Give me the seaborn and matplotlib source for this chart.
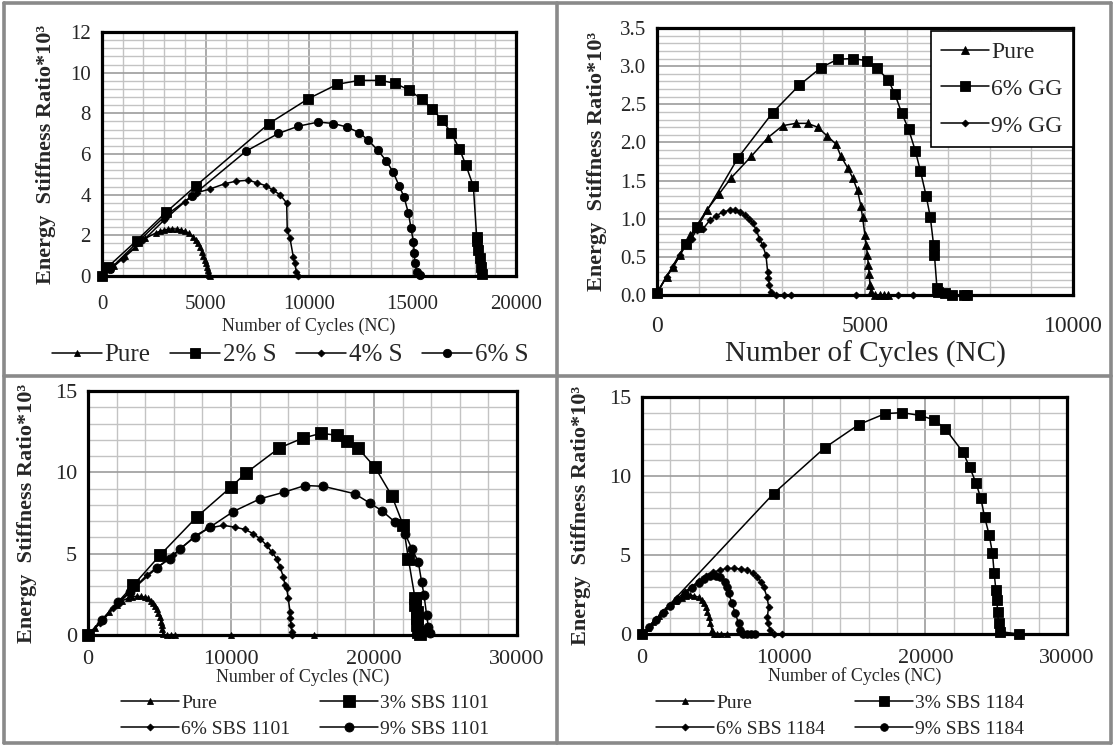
import matplotlib
matplotlib.use("Agg")
import matplotlib.pyplot as plt
from matplotlib.lines import Line2D
from matplotlib.ticker import MultipleLocator, FormatStrFormatter
import seaborn as sns

# ---------------- (a) sulphur-modified binders ----------------
a_pure_nc = [0, 600, 1100, 1600, 2100, 2600, 2800, 3000, 3200, 3400, 3600, 3800, 4000,
             4200, 4410, 4550, 4650, 4750, 4810, 4900, 4980, 5030, 5060, 5100, 5140, 5180, 5220]
a_pure_esr = [0, 0.5, 0.98, 1.42, 1.85, 2.12, 2.2, 2.26, 2.3, 2.32, 2.31, 2.27, 2.2,
              2.1, 1.94, 1.78, 1.61, 1.42, 1.2, 1.0, 0.79, 0.62, 0.46, 0.3, 0.12, 0.04, 0]
a_s2_nc = [0, 300, 1670, 3090, 4540, 8070, 9970, 11370, 12430, 13430, 14150, 14850, 15440,
           15930, 16440, 16860, 17260, 17570, 17940, 18100, 18140, 18180, 18240, 18300, 18350]
a_s2_esr = [0, 0.46, 1.74, 3.13, 4.44, 7.5, 8.72, 9.43, 9.62, 9.62, 9.48, 9.14, 8.69,
            8.23, 7.67, 7.05, 6.27, 5.48, 4.41, 1.94, 1.7, 1.28, 0.87, 0.46, 0.1]
a_s4_nc = [0, 1000, 2000, 3000, 4000, 4600, 5220, 5940, 6460, 7070, 7500, 7920, 8280,
           8600, 8920, 8950, 9080, 9240, 9310, 9390, 9470]
a_s4_esr = [0, 0.85, 1.75, 2.75, 3.65, 4.1, 4.28, 4.54, 4.66, 4.71, 4.58, 4.44, 4.21,
            4.0, 3.59, 2.27, 1.86, 0.95, 0.63, 0.21, 0.0]
a_s6_nc = [0, 400, 1700, 3050, 4330, 6960, 8520, 9490, 10450, 11180, 11820, 12430, 12870,
           13320, 13720, 14070, 14350, 14590, 14800, 14930, 15040, 15090, 15120, 15200, 15360]
a_s6_esr = [0, 0.35, 1.65, 2.95, 3.92, 6.14, 7.01, 7.37, 7.57, 7.5, 7.33, 7.05, 6.67,
            6.19, 5.68, 5.1, 4.44, 3.89, 3.1, 2.35, 1.69, 1.12, 0.63, 0.21, 0.05]
a_labels = ["Pure", "2% S", "4% S", "6% S"]

# ---------------- (b) guar-gum-modified binders ----------------
b_pure_nc = [0, 230, 390, 550, 800, 1190, 1500, 1790, 2270, 2660, 3020, 3340, 3620, 3860,
             4080, 4300, 4420, 4580, 4700, 4820, 4900, 4940, 5000, 5030, 5060, 5080, 5100,
             5120, 5140, 5250, 5350, 5450, 5550]
b_pure_esr = [0.03, 0.24, 0.37, 0.52, 0.78, 1.11, 1.33, 1.54, 1.82, 2.06, 2.22, 2.25, 2.25, 2.2,
              2.09, 1.98, 1.82, 1.67, 1.54, 1.37, 1.17, 1.02, 0.78, 0.65, 0.52, 0.39, 0.28,
              0.13, 0.04, 0, 0, 0, 0]
b_gg6_nc = [0, 690, 970, 1950, 2780, 3420, 3940, 4340, 4700, 5060, 5290, 5560, 5720, 5880,
            6050, 6210, 6330, 6470, 6570, 6650, 6670, 6730, 6760, 6930, 7090, 7370, 7450]
b_gg6_esr = [0.03, 0.67, 0.89, 1.8, 2.39, 2.75, 2.98, 3.09, 3.1, 3.07, 2.97, 2.82, 2.63, 2.39,
             2.17, 1.89, 1.63, 1.3, 1.02, 0.65, 0.52, 0.09, 0.04, 0.02, 0, 0, 0]
b_gg9_nc = [0, 230, 390, 550, 710, 830, 950, 1110, 1270, 1430, 1590, 1750, 1870, 1990, 2110,
            2220, 2300, 2390, 2460, 2540, 2620, 2660, 2680, 2700, 2740, 2860, 3060, 3220,
            4780, 5800, 6150]
b_gg9_esr = [0.02, 0.24, 0.37, 0.52, 0.67, 0.74, 0.85, 0.87, 0.98, 1.04, 1.09, 1.11, 1.11, 1.09,
             1.05, 1.0, 0.94, 0.85, 0.74, 0.65, 0.52, 0.3, 0.22, 0.13, 0.04, 0, 0, 0, 0, 0, 0]
b_labels = ["Pure", "6% GG", "9% GG"]

# ---------------- (c) SBS 1101 binders ----------------
c_pure_nc = [0, 500, 1000, 1500, 2000, 2400, 2800, 3100, 3400, 3700, 4000, 4200, 4400, 4550,
             4700, 4800, 4900, 5000, 5100, 5150, 5200, 5270, 5500, 5800, 6100, 10000, 15800]
c_pure_esr = [0, 0.45, 0.95, 1.4, 1.85, 2.1, 2.27, 2.35, 2.38, 2.37, 2.32, 2.25, 2.12, 1.98,
              1.8, 1.6, 1.35, 1.1, 0.8, 0.6, 0.35, 0.05, 0, 0, 0, 0, 0]
c_s3_nc = [0, 3170, 5030, 7600, 9980, 11050, 13360, 15010, 16270, 17390, 18090, 18900, 20070,
           21240, 22050, 22400, 22870, 22900, 22980, 23000, 23000, 23050, 23200]
c_s3_esr = [0, 3.06, 4.9, 7.25, 9.08, 9.96, 11.49, 12.1, 12.39, 12.29, 11.94, 11.47, 10.31,
            8.57, 6.74, 4.7, 2.25, 1.84, 1.43, 1.02, 0.61, 0.2, 0.05]
c_s6_nc = [0, 840, 1770, 2900, 4100, 5970, 7480, 8410, 9460, 10280, 10980, 11560, 12030,
           12500, 12850, 13200, 13430, 13660, 13780, 13900, 14000, 14130, 14130, 14200, 14240, 14300]
c_s6_esr = [0, 0.71, 1.63, 2.6, 3.67, 4.9, 6.08, 6.57, 6.74, 6.63, 6.49, 6.23, 5.92,
            5.51, 5.1, 4.7, 4.18, 3.57, 3.06, 2.86, 2.25, 1.43, 1.02, 0.61, 0.2, 0]
c_s9_nc = [0, 1000, 2120, 2940, 4800, 5730, 6430, 7480, 8530, 10160, 12030, 13710, 15170,
           16460, 18670, 19720, 20540, 21470, 22170, 22640, 23100, 23330, 23500, 23680, 23800, 23920]
c_s9_esr = [0, 0.95, 2.04, 2.65, 4.12, 4.7, 5.31, 6.02, 6.63, 7.59, 8.37, 8.78, 9.19,
            9.14, 8.68, 8.1, 7.65, 6.94, 6.23, 5.31, 4.49, 3.26, 2.45, 1.22, 0.51, 0.1]
c_labels = ["Pure", "3% SBS 1101", "6% SBS 1101", "9% SBS 1101"]

# ---------------- (d) SBS 1184 binders ----------------
d_pure_nc = [0, 400, 800, 1200, 1600, 2000, 2400, 2800, 3100, 3400, 3700, 4000, 4230, 4400,
             4550, 4620, 4700, 4820, 4940, 5050, 5300, 5600, 6000]
d_pure_esr = [0, 0.4, 0.78, 1.15, 1.5, 1.85, 2.12, 2.3, 2.4, 2.45, 2.42, 2.32, 2.15, 1.95,
              1.73, 1.4, 1.1, 0.68, 0.25, 0, 0, 0, 0]
d_s3_nc = [0, 9290, 12890, 15290, 17170, 18350, 19590, 20580, 21400, 22650, 23120, 23570,
           23920, 24180, 24510, 24740, 24860, 24980, 25050, 25100, 25170, 25290, 26580]
d_s3_esr = [0, 8.89, 11.78, 13.25, 13.95, 14.01, 13.84, 13.57, 13.0, 11.52, 10.58, 9.57,
            8.58, 7.42, 6.26, 5.1, 3.84, 2.78, 2.15, 1.41, 0.68, 0.15, 0]
d_s6_nc = [0, 500, 1000, 1500, 2000, 2500, 3000, 3500, 4000, 4500, 5000, 5500, 6000, 6500,
           7000, 7410, 7800, 8120, 8400, 8580, 8820, 8940, 8850, 8860, 9060, 9290, 9880]
d_s6_esr = [0, 0.45, 0.92, 1.38, 1.82, 2.25, 2.65, 3.0, 3.35, 3.65, 3.9, 4.05, 4.15, 4.15,
            4.12, 4.05, 3.85, 3.62, 3.3, 2.99, 2.36, 1.73, 1.1, 0.68, 0.25, 0, 0]
d_s9_nc = [0, 500, 1000, 1500, 2000, 2500, 3000, 3500, 4000, 4400, 4800, 5200, 5500, 5880,
           6000, 6120, 6350, 6580, 6820, 6940, 7160, 7400, 7700, 8000]
d_s9_esr = [0, 0.45, 0.9, 1.35, 1.75, 2.15, 2.55, 2.9, 3.25, 3.5, 3.65, 3.68, 3.6, 3.31,
            3.0, 2.57, 1.94, 1.31, 0.68, 0.25, 0, 0, 0, 0]
d_labels = ["Pure", "3% SBS 1184", "6% SBS 1184", "9% SBS 1184"]

YLABEL = "Energy  Stiffness Ratio*10³"
XLABEL = "Number of Cycles (NC)"

sns.set_style("white")
plt.rcParams["font.family"] = ["Liberation Serif", "DejaVu Serif"]

W, H = 1114, 746
fig = plt.figure(figsize=(W / 100, H / 100), dpi=100)


def px_axes(x0, x1, y_top, y_bot):
    return fig.add_axes([x0 / W, 1 - y_bot / H, (x1 - x0) / W, (y_bot - y_top) / H])


def draw(ax, nc, esr, marker, ms, label):
    sns.lineplot(x=nc, y=esr, ax=ax, sort=False, estimator=None, color="black",
                 linewidth=1.1, marker=marker, markersize=ms, markeredgecolor="black",
                 markerfacecolor="black", markeredgewidth=0.6, label=label, legend=False,
                 clip_on=False, zorder=3)


def style(ax, xmax, xmaj, xmin, ymax, ymaj, ymin, yfmt, tick_fs, ytick_fs=None, xpad=8):
    ax.set_xlim(0, xmax)
    ax.set_ylim(0, ymax)
    ax.xaxis.set_major_locator(MultipleLocator(xmaj))
    ax.xaxis.set_minor_locator(MultipleLocator(xmin))
    ax.yaxis.set_major_locator(MultipleLocator(ymaj))
    ax.yaxis.set_minor_locator(MultipleLocator(ymin))
    ax.yaxis.set_major_formatter(FormatStrFormatter(yfmt))
    ax.xaxis.set_major_formatter(FormatStrFormatter("%d"))
    ax.grid(which="minor", color="#c3c3c3", linewidth=1.0)
    ax.grid(which="major", color="#9c9c9c", linewidth=1.2)
    ax.set_axisbelow(True)
    for s in ax.spines.values():
        s.set_linewidth(2.3)
        s.set_color("black")
        s.set_visible(True)
    ax.tick_params(which="major", direction="out", length=5, width=1.8, color="black",
                   pad=3)
    ax.tick_params(which="minor", direction="in", length=4, width=1.5, color="black")
    ax.tick_params(axis="x", which="major", labelsize=tick_fs, pad=xpad)
    ax.tick_params(axis="y", which="major", labelsize=ytick_fs or tick_fs)


# ---- panel (a)
ax1 = px_axes(102, 516, 32, 276)
draw(ax1, a_pure_nc, a_pure_esr, "^", 5, a_labels[0])
draw(ax1, a_s2_nc, a_s2_esr, "s", 6.5, a_labels[1])
draw(ax1, a_s4_nc, a_s4_esr, "D", 3.5, a_labels[2])
draw(ax1, a_s6_nc, a_s6_esr, "o", 6, a_labels[3])
style(ax1, 20000, 5000, 1000, 12, 2, 0.4, "%d", 15, xpad=9)
ax1.set_xlabel(XLABEL, fontsize=13, labelpad=2)
ax1.set_ylabel(YLABEL, fontsize=16, fontweight="bold", labelpad=10)
ax1.legend(handles=ax1.lines[:4], labels=a_labels, loc="center",
           bbox_to_anchor=(290 / W, 1 - 355 / H), bbox_transform=fig.transFigure,
           ncol=4, frameon=False, fontsize=18, handlelength=2.0, handletextpad=0.1,
           columnspacing=0.8, borderpad=0)

# ---- panel (b)
ax2 = px_axes(657, 1073, 28, 295)
draw(ax2, b_pure_nc, b_pure_esr, "^", 5.5, b_labels[0])
draw(ax2, b_gg6_nc, b_gg6_esr, "s", 6.5, b_labels[1])
draw(ax2, b_gg9_nc, b_gg9_esr, "D", 3.5, b_labels[2])
style(ax2, 10000, 5000, 1000, 3.5, 0.5, 0.1, "%.1f", 17, 15, xpad=10)
ax2.set_xlabel(XLABEL, fontsize=21, labelpad=3)
ax2.set_ylabel(YLABEL, fontsize=16, fontweight="bold", labelpad=9)
leg2 = ax2.legend(handles=ax2.lines[:3], labels=b_labels, loc="upper right",
                  bbox_to_anchor=(1.0, 0.99), borderaxespad=0.0, fontsize=17, frameon=True,
                  fancybox=False, edgecolor="black", framealpha=1, handlelength=2.0,
                  handletextpad=0.1, labelspacing=0.65, borderpad=0.45)
leg2.get_frame().set_linewidth(1.2)

# ---- panel (c)
ax3 = px_axes(88, 517, 391, 635)
draw(ax3, c_pure_nc, c_pure_esr, "^", 5, c_labels[0])
draw(ax3, c_s3_nc, c_s3_esr, "s", 8.5, c_labels[1])
draw(ax3, c_s6_nc, c_s6_esr, "D", 3.5, c_labels[2])
draw(ax3, c_s9_nc, c_s9_esr, "o", 6.5, c_labels[3])
style(ax3, 30000, 10000, 2000, 15, 5, 1, "%d", 16, xpad=6)
ax3.set_xlabel(XLABEL, fontsize=13, labelpad=-1)
ax3.set_ylabel(YLABEL, fontsize=16, fontweight="bold", labelpad=13)
h3 = ax3.lines[:4]
ax3.legend(handles=[h3[0], h3[2], h3[1], h3[3]],
           labels=[c_labels[0], c_labels[2], c_labels[1], c_labels[3]], loc="center",
           bbox_to_anchor=(305 / W, 1 - 716 / H), bbox_transform=fig.transFigure,
           ncol=2, frameon=False, fontsize=14, handlelength=3.0, handletextpad=0.1,
           columnspacing=1.5, labelspacing=0.45, borderpad=0)

# ---- panel (d)
ax4 = px_axes(642, 1067, 397, 634)
draw(ax4, d_pure_nc, d_pure_esr, "^", 5, d_labels[0])
draw(ax4, d_s3_nc, d_s3_esr, "s", 6.5, d_labels[1])
draw(ax4, d_s6_nc, d_s6_esr, "D", 3.5, d_labels[2])
draw(ax4, d_s9_nc, d_s9_esr, "o", 5.5, d_labels[3])
style(ax4, 30000, 10000, 2000, 15, 5, 1, "%d", 16, xpad=6)
ax4.set_xlabel(XLABEL, fontsize=13, labelpad=-1)
ax4.set_ylabel(YLABEL, fontsize=16, fontweight="bold", labelpad=13)
h4 = ax4.lines[:4]
ax4.legend(handles=[h4[0], h4[2], h4[1], h4[3]],
           labels=[d_labels[0], d_labels[2], d_labels[1], d_labels[3]], loc="center",
           bbox_to_anchor=(840 / W, 1 - 716 / H), bbox_transform=fig.transFigure,
           ncol=2, frameon=False, fontsize=14, handlelength=3.0, handletextpad=0.1,
           columnspacing=1.5, labelspacing=0.45, borderpad=0)

# ---- grey frame separating the four panels
frame_kw = dict(transform=fig.transFigure, color="#8a8a8a", linewidth=2.6)
for (xa, ya, xb, yb) in [(4, 3, 1111, 3), (4, 743, 1111, 743), (4, 3, 4, 743),
                         (1111, 3, 1111, 743), (557, 3, 557, 743), (4, 376, 1111, 376)]:
    fig.add_artist(Line2D([xa / W, xb / W], [1 - ya / H, 1 - yb / H], **frame_kw))

fig.savefig("out.png", dpi=100, facecolor="white")
